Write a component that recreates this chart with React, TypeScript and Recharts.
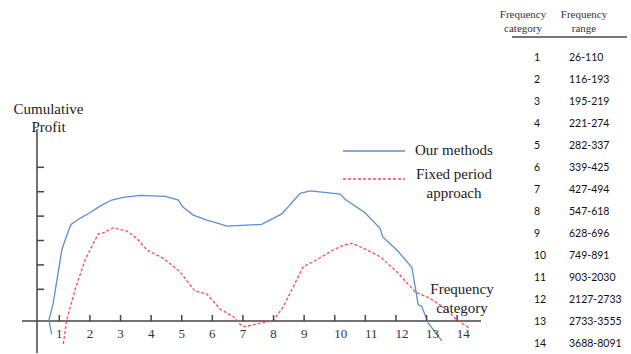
import React from "react"
import { LineChart, Line, XAxis, YAxis, ReferenceLine, Legend } from "recharts"

// category positions on the x axis
const CATEGORIES = [1, 2, 3, 4, 5, 6, 7, 8, 9, 10, 11, 12, 13, 14]
// y axis tick marks (no labels in the original)
const Y_TICKS = [1.3, 2.3, 3.3, 4.3, 5.3, 6.3]
const SERIES_NAMES = ["Our methods", "Fixed period approach"]

// Our methods (blue)
const OUR_X = [0.75, 0.66, 0.8, 1.08, 1.19, 1.38, 1.68, 2.0, 2.33, 2.71, 3.09, 3.64, 4.46, 4.89, 5.03, 5.38, 5.82, 6.25, 6.47, 7.61, 8.27, 8.87, 9.2, 10.18, 10.34, 10.99, 11.48, 11.57, 12.03, 12.52, 12.73, 12.84, 13.06, 13.5]
const OUR_Y = [-0.55, 0.04, 0.72, 2.91, 3.32, 3.96, 4.21, 4.44, 4.71, 4.96, 5.07, 5.15, 5.11, 4.96, 4.68, 4.34, 4.14, 3.98, 3.89, 3.96, 4.39, 5.23, 5.33, 5.2, 4.99, 4.44, 3.8, 3.45, 2.91, 2.2, 0.66, 0.61, -0.09, -0.81]

// Fixed period approach (red dashed)
const FIXED_X = [1.13, 1.24, 1.51, 1.84, 2.06, 2.27, 2.44, 2.76, 3.2, 3.53, 3.86, 4.4, 4.94, 5.43, 5.82, 6.25, 6.69, 6.96, 7.07, 7.56, 7.99, 8.32, 8.59, 8.97, 9.3, 9.95, 10.28, 10.56, 10.83, 11.48, 12.03, 12.62, 13.11, 13.66, 13.99, 14.42]
const FIXED_Y = [-0.94, 0.04, 1.27, 2.5, 3.05, 3.57, 3.62, 3.82, 3.69, 3.39, 2.91, 2.57, 2.02, 1.23, 1.11, 0.49, 0.18, -0.2, -0.23, -0.09, 0.01, 0.59, 1.27, 2.23, 2.43, 2.91, 3.11, 3.18, 3.05, 2.64, 2.02, 1.2, 0.93, 0.48, 0.04, -0.3]

// table on the right
const TABLE_CATS = ["1", "2", "3", "4", "5", "6", "7", "8", "9", "10", "11", "12", "13", "14"]
const TABLE_RANGES = ["26-110", "116-193", "195-219", "221-274", "282-337", "339-425", "427-494", "547-618", "628-696", "749-891", "903-2030", "2127-2733", "2733-3555", "3688-8091"]

const ourData = OUR_X.map((x, i) => ({ x, y: OUR_Y[i] }))
const fixedData = FIXED_X.map((x, i) => ({ x, y: FIXED_Y[i] }))

const X_MIN = 0.27
const X_MAX = 14.78
const Y_MIN = -1.31
const Y_MAX = 7.87
const TOP = 129
const LEFT = 37
const PLOT_H = 224
const ZERO_Y = TOP + (PLOT_H * Y_MAX) / (Y_MAX - Y_MIN)

const AXIS = "#454545"
const BLUE = "#5b8dd0"
const RED = "#ff4a4a"
const SERIF = "'Liberation Serif', 'Times New Roman', serif"

const CategoryTick = (props: any) => {
  const { x, payload } = props
  const dx = payload.value >= 10 ? 6 : 0
  return (
    <g>
      <line x1={x} x2={x} y1={ZERO_Y - 6} y2={ZERO_Y} stroke={AXIS} strokeWidth={1.5} />
      <text x={x + dx} y={ZERO_Y + 17} textAnchor="middle" fontSize={13} fill="#333" fontFamily={SERIF}>
        {payload.value}
      </text>
    </g>
  )
}

// y ticks point inwards, no labels
const ProfitTick = (props: any) => (
  <line x1={LEFT} x2={LEFT + 7} y1={props.y} y2={props.y} stroke={AXIS} strokeWidth={1.5} />
)

const LegendBox = ({ payload }: any) => {
  const items = [...(payload || [])].sort(
    (a: any, b: any) => SERIES_NAMES.indexOf(a.value) - SERIES_NAMES.indexOf(b.value)
  )
  return (
    <div style={{ fontFamily: SERIF, fontSize: 15, color: "#222" }}>
      {items.map((entry: any, i: number) => (
        <div key={i} style={{ display: "flex", alignItems: "flex-start", marginBottom: i === 0 ? 4 : 0 }}>
          <svg width={62} height={20} style={{ flex: "none", marginTop: i === 0 ? 0 : 4 }}>
            <line
              x1={0}
              x2={62}
              y1={10}
              y2={10}
              stroke={entry.color}
              strokeWidth={1.3}
              strokeDasharray={entry.payload?.strokeDasharray}
            />
          </svg>
          <div style={{ width: 98, textAlign: "center", lineHeight: "19px" }}>{entry.value}</div>
        </div>
      ))}
    </div>
  )
}

export default function App() {
  return (
    <div style={{ position: "absolute", left: 0, top: 0, width: 631, height: 354, background: "#fff", overflow: "hidden" }}>
      <LineChart width={631} height={354} margin={{ top: TOP, right: 150, bottom: 0, left: LEFT - 1 }}>
        <XAxis
          dataKey="x"
          type="number"
          domain={[X_MIN, X_MAX]}
          ticks={CATEGORIES}
          interval={0}
          height={1}
          axisLine={false}
          tickLine={false}
          tick={<CategoryTick />}
        />
        <YAxis
          type="number"
          domain={[Y_MIN, Y_MAX]}
          ticks={Y_TICKS}
          interval={0}
          width={1}
          tickLine={false}
          tick={<ProfitTick />}
          axisLine={{ stroke: AXIS, strokeWidth: 1.5 }}
        />
        <ReferenceLine
          segment={[{ x: -0.22, y: 0 }, { x: X_MAX, y: 0 }]}
          ifOverflow="visible"
          stroke={AXIS}
          strokeWidth={1.5}
        />
        <Legend
          layout="horizontal"
          verticalAlign="middle"
          align="center"
          wrapperStyle={{ position: "absolute", left: 343, top: 141, width: 170 }}
          content={<LegendBox />}
        />
        <Line
          data={ourData}
          dataKey="y"
          name="Our methods"
          type="linear"
          stroke={BLUE}
          strokeWidth={1.3}
          dot={false}
          isAnimationActive={false}
        />
        <Line
          data={fixedData}
          dataKey="y"
          name="Fixed period approach"
          type="linear"
          stroke={RED}
          strokeWidth={1.3}
          strokeDasharray="3 2"
          dot={false}
          isAnimationActive={false}
        />
      </LineChart>

      <div style={{ position: "absolute", left: 0, top: 101, width: 97, textAlign: "center", fontFamily: SERIF, fontSize: 15, lineHeight: "17.5px", color: "#222" }}>
        Cumulative
        <br />
        Profit
      </div>
      <div style={{ position: "absolute", left: 421, top: 280, width: 82, textAlign: "center", fontFamily: SERIF, fontSize: 15, lineHeight: "19px", color: "#222" }}>
        Frequency
        <br />
        category
      </div>

      {/* table */}
      <div style={{ position: "absolute", left: 497, top: 7, width: 52, textAlign: "center", fontFamily: SERIF, fontSize: 11, lineHeight: "14px", color: "#333" }}>
        Frequency
        <br />
        category
      </div>
      <div style={{ position: "absolute", left: 558, top: 7, width: 52, textAlign: "center", fontFamily: SERIF, fontSize: 11, lineHeight: "14px", color: "#333" }}>
        Frequency
        <br />
        range
      </div>
      <div style={{ position: "absolute", left: 512, top: 36, width: 115, height: 2, background: "#777" }} />
      {TABLE_CATS.map((c, i) => (
        <React.Fragment key={c}>
          <div style={{ position: "absolute", left: 534, top: 50 + i * 22, fontFamily: "Lato, sans-serif", fontSize: 10.5, lineHeight: "14px", color: "#111" }}>
            {c}
          </div>
          <div style={{ position: "absolute", left: 569, top: 50 + i * 22, fontFamily: "Lato, sans-serif", fontSize: 10.5, lineHeight: "14px", color: "#111" }}>
            {TABLE_RANGES[i]}
          </div>
        </React.Fragment>
      ))}
    </div>
  )
}
